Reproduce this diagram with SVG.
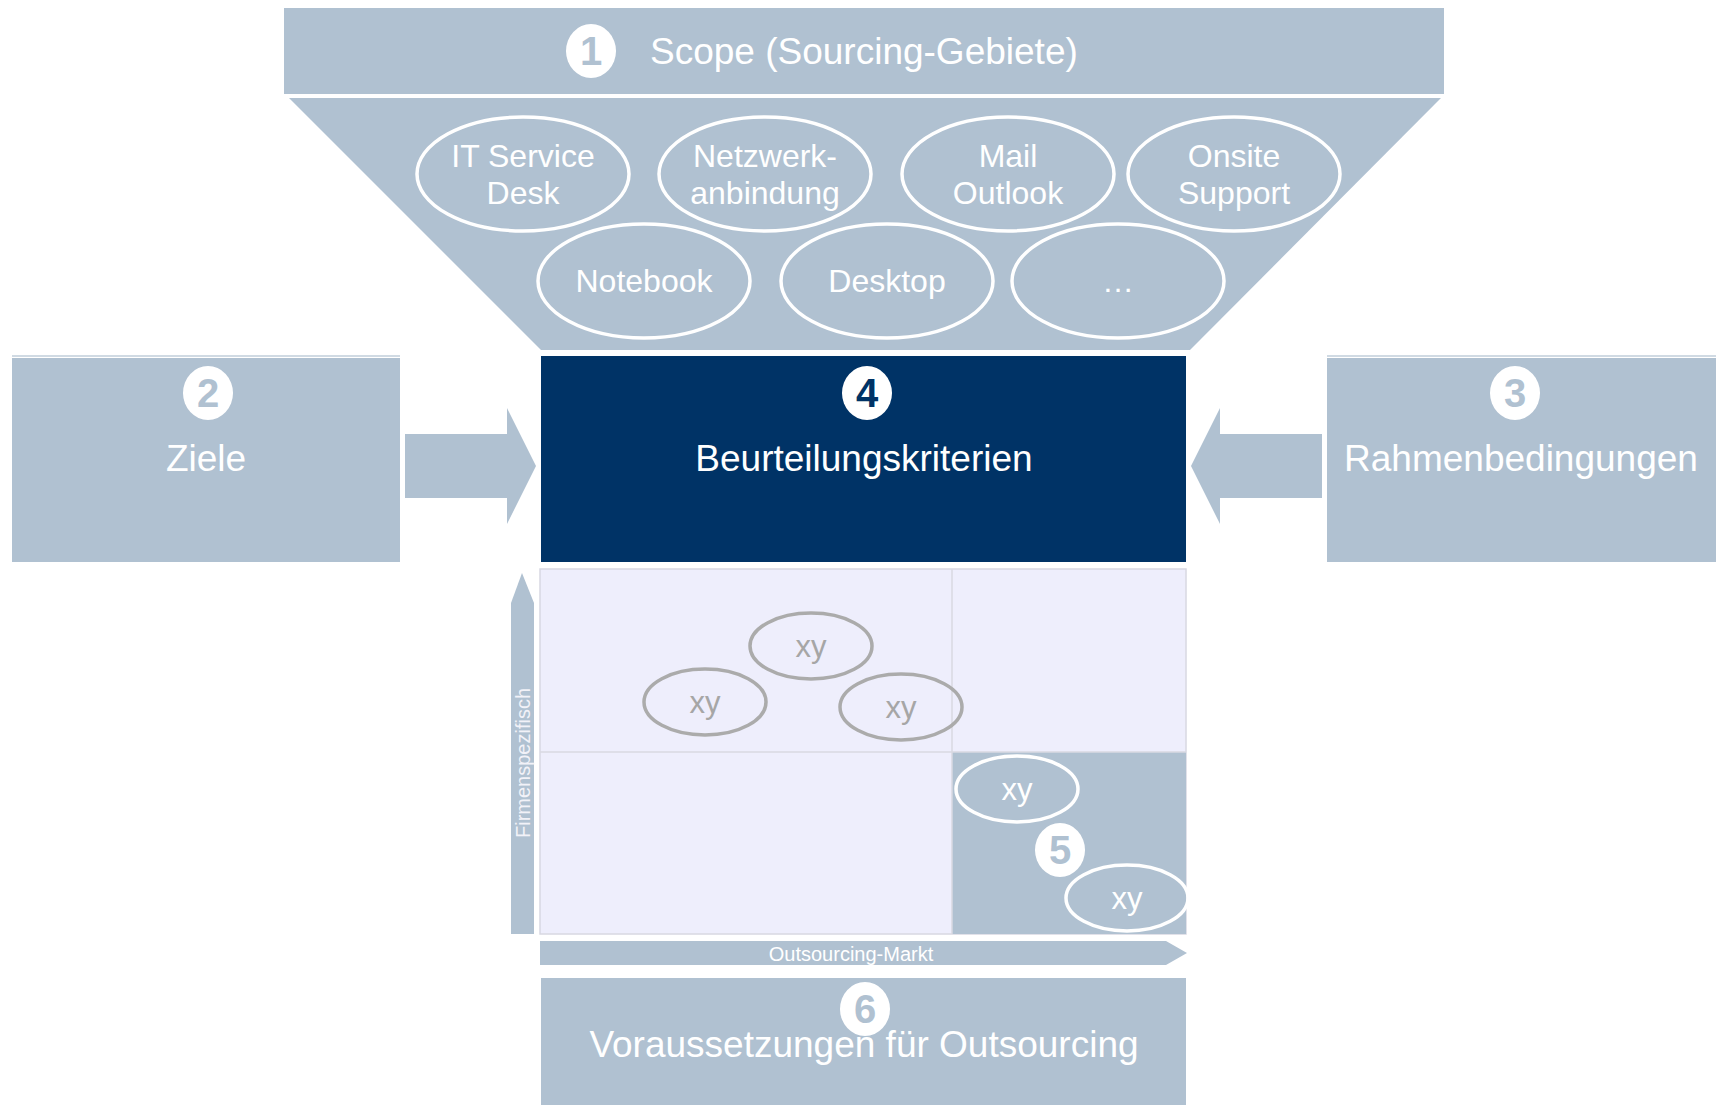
<svg xmlns="http://www.w3.org/2000/svg" width="1727" height="1105" viewBox="0 0 1727 1105">
<style>
.bg{fill:#b0c1d1}
.navy{fill:#003366}
.t{font-family:"Liberation Sans",Arial,sans-serif;fill:#ffffff}
.big{font-size:37px}
.mid{font-size:32px}
.sm{font-size:20px}
.oval{fill:none;stroke:#ffffff;stroke-width:3.5}
.goval{fill:none;stroke:#ababab;stroke-width:3.5}
.gt{font-family:"Liberation Sans",Arial,sans-serif;font-size:31px;fill:#a6a6a6}
.wt{font-family:"Liberation Sans",Arial,sans-serif;font-size:31px;fill:#ffffff}
.numc{fill:#ffffff}
.num{font-family:"Liberation Sans",Arial,sans-serif;font-weight:bold;font-size:40px;fill:#b0c1d1}
</style>
<rect width="1727" height="1105" fill="#ffffff"/>

<g id="scope">
<rect class="bg" x="284" y="8" width="1160" height="86"/>
<ellipse class="numc" cx="591" cy="51" rx="25" ry="27"/>
<text class="num" x="591" y="65" text-anchor="middle">1</text>
<text class="t big" x="650" y="64">Scope (Sourcing-Gebiete)</text>
</g>

<g id="funnel">
<polygon class="bg" points="289,98 1441,98 1190,350 541,350"/>
</g>

<g id="area-it-service-desk">
<ellipse class="oval" cx="523" cy="174" rx="106" ry="57"/>
<text class="t mid" x="523" y="167" text-anchor="middle">IT Service</text>
<text class="t mid" x="523" y="204" text-anchor="middle">Desk</text>
</g>
<g id="area-netzwerk">
<ellipse class="oval" cx="765" cy="174" rx="106" ry="57"/>
<text class="t mid" x="765" y="167" text-anchor="middle">Netzwerk-</text>
<text class="t mid" x="765" y="204" text-anchor="middle">anbindung</text>
</g>
<g id="area-mail">
<ellipse class="oval" cx="1008" cy="174" rx="106" ry="57"/>
<text class="t mid" x="1008" y="167" text-anchor="middle">Mail</text>
<text class="t mid" x="1008" y="204" text-anchor="middle">Outlook</text>
</g>
<g id="area-onsite">
<ellipse class="oval" cx="1234" cy="174" rx="106" ry="57"/>
<text class="t mid" x="1234" y="167" text-anchor="middle">Onsite</text>
<text class="t mid" x="1234" y="204" text-anchor="middle">Support</text>
</g>
<g id="area-notebook">
<ellipse class="oval" cx="644" cy="281" rx="106" ry="57"/>
<text class="t mid" x="644" y="292" text-anchor="middle">Notebook</text>
</g>
<g id="area-desktop">
<ellipse class="oval" cx="887" cy="281" rx="106" ry="57"/>
<text class="t mid" x="887" y="292" text-anchor="middle">Desktop</text>
</g>
<g id="area-more">
<ellipse class="oval" cx="1118" cy="281" rx="106" ry="57"/>
<text class="t mid" x="1118" y="292" text-anchor="middle">…</text>
</g>

<g id="ziele">
<rect class="bg" x="12" y="355" width="388" height="2" opacity="0.6"/>
<rect class="bg" x="12" y="358" width="388" height="204"/>
<ellipse class="numc" cx="208" cy="393" rx="25" ry="27"/>
<text class="num" x="208" y="407" text-anchor="middle">2</text>
<text class="t big" x="206" y="471" text-anchor="middle">Ziele</text>
</g>

<g id="rahmenbedingungen">
<rect class="bg" x="1327" y="355" width="389" height="2" opacity="0.6"/>
<rect class="bg" x="1327" y="358" width="389" height="204"/>
<ellipse class="numc" cx="1515" cy="393" rx="25" ry="27"/>
<text class="num" x="1515" y="407" text-anchor="middle">3</text>
<text class="t big" x="1521" y="471" text-anchor="middle">Rahmenbedingungen</text>
</g>

<g id="beurteilungskriterien">
<rect class="navy" x="541" y="356" width="645" height="206"/>
<ellipse class="numc" cx="867" cy="393" rx="25" ry="27"/>
<text class="num" x="867" y="407" text-anchor="middle" style="fill:#003366">4</text>
<text class="t big" x="864" y="471" text-anchor="middle">Beurteilungskriterien</text>
</g>

<g id="connectors">
<polygon class="bg" points="405,434 507,434 507,408 536,466 507,524 507,498 405,498"/>
<polygon class="bg" points="1322,434 1220,434 1220,408 1191,466 1220,524 1220,498 1322,498"/>
</g>

<g id="matrix">
<rect x="540" y="569" width="646" height="365" fill="#eeeefc" stroke="#d8d8e2" stroke-width="1.5"/>
<rect class="bg" x="952" y="752" width="234" height="182"/>
<line x1="952" y1="569" x2="952" y2="934" stroke="#d8d8e2" stroke-width="1.5"/>
<line x1="540" y1="752" x2="1186" y2="752" stroke="#d8d8e2" stroke-width="1.5"/>
<polygon class="bg" points="511,934 511,603 522,573 534,603 534,934"/>
<text class="t sm" transform="translate(530,763) rotate(-90)" text-anchor="middle" style="fill:#f2f2f8">Firmenspezifisch</text>
<polygon class="bg" points="540,941 1166,941 1187,953 1166,965 540,965"/>
<text class="t sm" x="851" y="961" text-anchor="middle">Outsourcing-Markt</text>
</g>

<g id="xy-1">
<ellipse class="goval" cx="811" cy="646" rx="61" ry="33"/>
<text class="gt" x="811" y="657" text-anchor="middle">xy</text>
</g>
<g id="xy-2">
<ellipse class="goval" cx="705" cy="702" rx="61" ry="33"/>
<text class="gt" x="705" y="713" text-anchor="middle">xy</text>
</g>
<g id="xy-3">
<ellipse class="goval" cx="901" cy="707" rx="61" ry="33"/>
<text class="gt" x="901" y="718" text-anchor="middle">xy</text>
</g>
<g id="xy-4">
<ellipse class="oval" cx="1017" cy="789" rx="61" ry="33"/>
<text class="wt" x="1017" y="800" text-anchor="middle">xy</text>
</g>
<g id="xy-5">
<ellipse class="oval" cx="1127" cy="898" rx="61" ry="33"/>
<text class="wt" x="1127" y="909" text-anchor="middle">xy</text>
</g>
<g id="marker-5">
<ellipse class="numc" cx="1060" cy="850" rx="25" ry="27"/>
<text class="num" x="1060" y="864" text-anchor="middle">5</text>
</g>

<g id="voraussetzungen">
<rect class="bg" x="541" y="978" width="645" height="127"/>
<ellipse class="numc" cx="865" cy="1009" rx="25" ry="27"/>
<text class="num" x="865" y="1023" text-anchor="middle">6</text>
<text class="t big" x="864" y="1057" text-anchor="middle">Voraussetzungen für Outsourcing</text>
</g>
</svg>
